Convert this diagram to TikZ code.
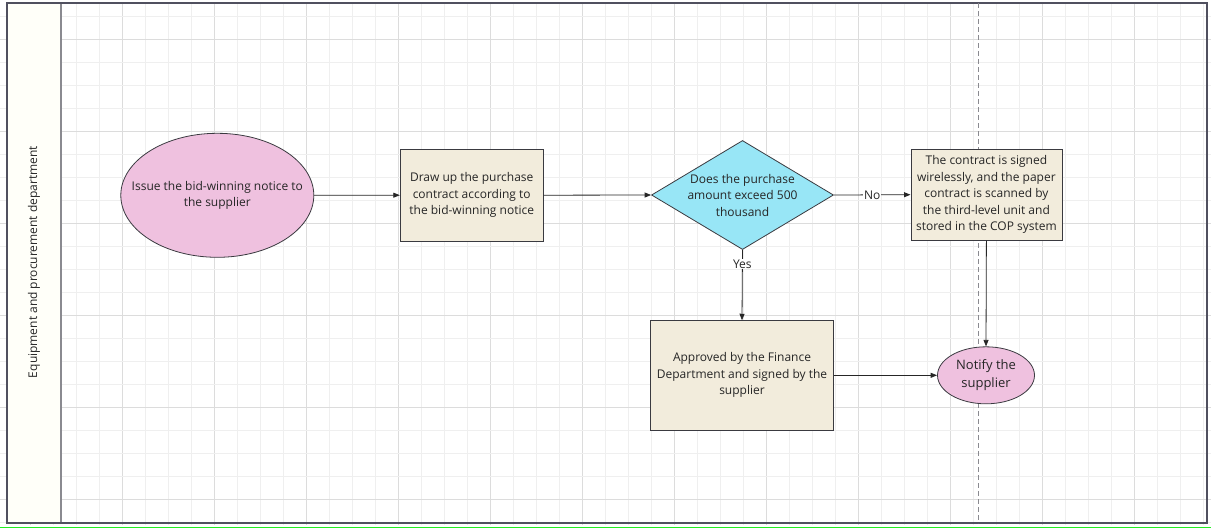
\documentclass[tikz,border=0pt]{standalone}
\usepackage{fontspec}
\setmainfont{Open Sans}
\usetikzlibrary{shapes.geometric,arrows.meta}
\definecolor{gridminor}{HTML}{EFEFEF}
\definecolor{gridmajor}{HTML}{DCDCDC}
\definecolor{frameline}{HTML}{50505F}
\definecolor{laneline}{HTML}{8A8A90}
\definecolor{headfill}{HTML}{FFFFF9}
\definecolor{pinkfill}{HTML}{EFC1DF}
\definecolor{beigefill}{HTML}{F2ECDC}
\definecolor{cyanfill}{HTML}{98E6F6}
\definecolor{nodeline}{HTML}{3A3A40}
\definecolor{txt}{HTML}{262626}
\definecolor{selgreen}{HTML}{22EE22}
\tikzset{
  every node/.style={text=txt, font=\fontsize{12}{16.5}\selectfont, inner sep=2pt},
  startend/.style={ellipse, draw=nodeline, fill=pinkfill, line width=0.8pt, inner sep=0pt},
  procbox/.style={rectangle, draw=nodeline, fill=beigefill, line width=0.8pt, align=center},
  decision/.style={diamond, draw=nodeline, fill=cyanfill, line width=0.8pt, align=center, aspect=1.67, inner sep=0pt},
  caption/.style={align=center, inner sep=0pt},
  flow/.style={draw=black!85, line width=0.8pt, -{Triangle[length=6.5pt,width=5pt]}},
  edgelabel/.style={fill=white, inner sep=1pt, font=\fontsize{12}{14}\selectfont},
}
\begin{document}
\begin{tikzpicture}[x=1pt,y=-1pt]
\useasboundingbox (0,0) rectangle (1211,528);
\fill[white] (0,0) rectangle (1211,528);

% background grid
\begin{scope}
  \clip (0,3) rectangle (1211,524);
  \foreach \i in {0,...,52} {
    \pgfmathsetmacro{\gx}{30.3+23*\i}
    \pgfmathtruncatemacro{\m}{mod(\i,4)}
    \ifnum\m=0
      \draw[gridmajor, line width=0.7pt] (\gx,0) -- (\gx,528);
    \else
      \draw[gridminor, line width=0.7pt] (\gx,0) -- (\gx,528);
    \fi
  }
  \foreach \j in {0,...,23} {
    \pgfmathsetmacro{\gy}{-6.7+23*\j}
    \pgfmathtruncatemacro{\m}{mod(\j+2,4)}
    \ifnum\m=0
      \draw[gridmajor, line width=0.7pt] (0,\gy) -- (1211,\gy);
    \else
      \draw[gridminor, line width=0.7pt] (0,\gy) -- (1211,\gy);
    \fi
  }
\end{scope}

% lane header and frame
\fill[headfill] (7,3) rectangle (61,523);
\draw[laneline, line width=1.6pt] (61,3) -- (61,523);
\draw[frameline, line width=1.6pt] (7,3) rectangle (1207,523);
\draw[selgreen, line width=1.2pt] (0,527.4) -- (1211,527.4);

% phase separator
\draw[laneline, line width=0.7pt, dash pattern=on 5pt off 3pt] (978.7,3) -- (978.7,523);

\node[rotate=90, font=\fontsize{12}{14}\selectfont] (lane) at (34,262) {Equipment and procurement department};

% flow nodes
\node[startend, minimum width=193pt, minimum height=124pt] (issue) at (217.3,195.3) {};
\node[caption] (issuetxt) at (issue) {Issue the bid-winning notice to\\the supplier};
\node[procbox, minimum width=143pt, minimum height=92pt] (draw) at (471.7,195.2)
  {Draw up the purchase\\contract according to\\the bid-winning notice};
\node[decision, minimum width=182pt, minimum height=109pt] (check) at (742.5,195)
  {Does the purchase\\amount exceed 500\\thousand};
\node[procbox, minimum width=151pt, minimum height=91pt] (wireless) at (986.4,194.7)
  {The contract is signed\\wirelessly, and the paper\\contract is scanned by\\the third-level unit and\\stored in the COP system};
\node[procbox, minimum width=182.6pt, minimum height=109.3pt] (finance) at (742,375.3)
  {Approved by the Finance\\Department and signed by the\\supplier};
\node[startend, minimum width=97pt, minimum height=57pt] (notify) at (986,375.3) {};
\node[caption, font=\fontsize{13}{17.5}\selectfont] (notifytxt) at (notify) {Notify the\\supplier};

% connectors
\draw[flow] (issue.east) -- (draw.west);
\draw[flow] (draw.east) -- (check.west);
\draw[flow] (check.east) -- node[edgelabel, pos=0.5] (nolbl) {No} (wireless.west);
\draw[flow] (check.south) -- node[edgelabel, pos=0.2] (yeslbl) {Yes} (finance.north);
\draw[flow] (finance.east) -- (notify.west);
\draw[flow] (wireless.south) -- (notify.north);
\end{tikzpicture}
\end{document}
